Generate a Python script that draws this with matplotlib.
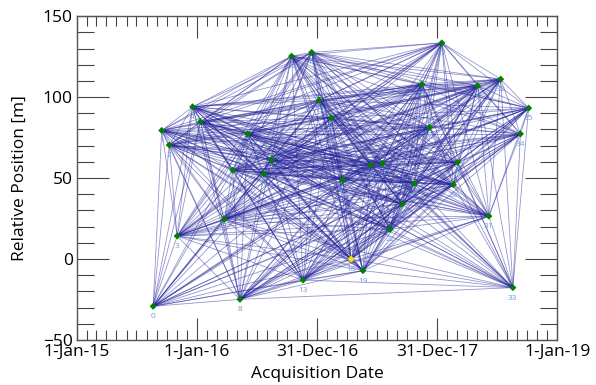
"""SBAS connection graph: acquisitions vs relative position."""

import numpy as np
import matplotlib
matplotlib.use("Agg")
import matplotlib.pyplot as plt
import matplotlib.dates as mdates
from matplotlib.ticker import MultipleLocator

# acquisition dates (label = index) and normal baseline [m]
dates = [
    "2015-08-21", "2015-09-16", "2015-10-09", "2015-11-02", "2015-12-19",
    "2016-01-12", "2016-03-24", "2016-04-19", "2016-05-11", "2016-06-03",
    "2016-07-23", "2016-08-15", "2016-10-15", "2016-11-19", "2016-12-15",
    "2017-01-07", "2017-02-13", "2017-03-20", "2017-04-14", "2017-05-20",
    "2017-06-13", "2017-07-19", "2017-08-10", "2017-09-16", "2017-10-23",
    "2017-11-15", "2017-12-08", "2018-01-15", "2018-02-19", "2018-03-04",
    "2018-05-04", "2018-06-07", "2018-07-13", "2018-08-19", "2018-09-11",
    "2018-10-06",
]
position = [
    -29.2, 79.4, 70.4, 14.2, 94.0, 84.8, 24.5, 54.9, -24.9, 77.3,
    52.5, 61.1, 125.3, -13.0, 127.6, 98.1, 87.2, 48.8, 0.0, -7.2,
    58.0, 59.1, 18.3, 34.0, 46.7, 108.0, 81.3, 133.5, 45.9, 59.7,
    107.0, 26.5, 111.1, -17.7, 77.3, 93.2,
]
reference = 18          # super master
max_baseline = 140.0    # m
max_temporal = 950      # days

x_ticks = ["2015-01-01", "2016-01-01", "2016-12-31", "2017-12-31", "2019-01-01"]
x_labels = ["1-Jan-15", "1-Jan-16", "31-Dec-16", "31-Dec-17", "1-Jan-19"]

t = mdates.datestr2num(dates)
y = np.array(position)

# pairs kept in the interferogram network
pairs = []
for i in range(len(t)):
    for j in range(i + 1, len(t)):
        if abs(y[i] - y[j]) <= max_baseline and abs(t[i] - t[j]) <= max_temporal:
            pairs.append((i, j))

plt.rcParams["font.family"] = ["Open Sans", "DejaVu Sans"]

fig = plt.figure(figsize=(5.96, 3.85), dpi=100)
ax = fig.add_axes([0.129, 0.117, 0.806, 0.841])

for i, j in pairs:
    ax.plot([t[i], t[j]], [y[i], y[j]], color="#23239a", lw=0.6,
            alpha=0.48, zorder=2)

colors = ["#f2e600" if k == reference else "#008000" for k in range(len(t))]
ax.scatter(t, y, marker="D", s=13, c=colors, zorder=4, linewidths=0)
for k in range(len(t)):
    ax.annotate(str(k), (t[k], y[k]), xytext=(0, -7.5), textcoords="offset points",
                ha="center", va="center", fontsize=6, color="#6c9ddb", zorder=3)

ax.set_xlim(mdates.datestr2num("2015-01-01"), mdates.datestr2num("2019-01-01"))
ax.set_ylim(-50, 150)
ax.set_xticks(mdates.datestr2num(x_ticks))
ax.set_xticklabels(x_labels)
ax.xaxis.set_minor_locator(mdates.MonthLocator())
ax.yaxis.set_major_locator(MultipleLocator(50))
ax.yaxis.set_minor_locator(MultipleLocator(10))

ax.tick_params(which="both", direction="in", top=True, right=True,
               color="#444444", labelsize=12.5, width=0.8, pad=3)
ax.tick_params(axis="y", which="major", length=23)
ax.tick_params(axis="y", which="minor", length=12)
ax.tick_params(axis="x", which="major", length=16)
ax.tick_params(axis="x", which="minor", length=7)
for s in ax.spines.values():
    s.set_color("#555555")
    s.set_linewidth(1.0)

ax.set_xlabel("Acquisition Date", fontsize=12.5, labelpad=4)
ax.set_ylabel("Relative Position [m]", fontsize=12.5, labelpad=11)

fig.savefig("out.png", dpi=100)
